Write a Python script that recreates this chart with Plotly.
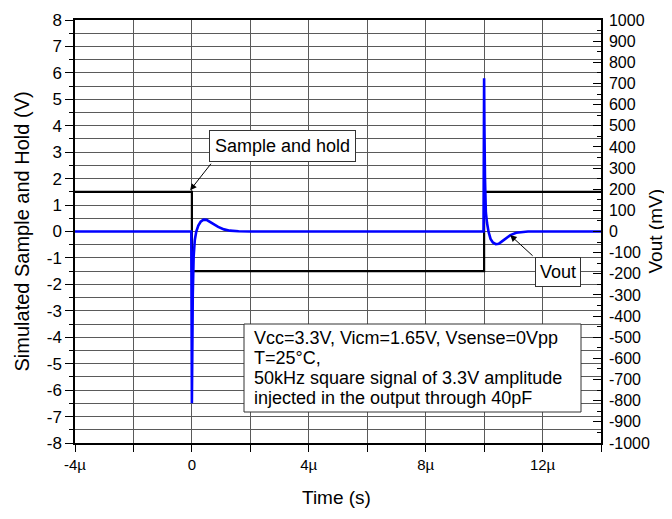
import plotly.graph_objects as go

# Time in microseconds
t_sh = [-4, 0, 0, 10, 10, 14]
v_sh = [1.5, 1.5, -1.5, -1.5, 1.5, 1.5]  # Simulated sample and hold (V)

t_vout = [-4, -0.02, 0.0, 0.01, 0.03, 0.06, 0.1, 0.15, 0.22, 0.3, 0.4, 0.5, 0.6, 0.75,
          0.9, 1.1, 1.3, 1.6, 2.0, 9.98, 10.0, 10.01, 10.03, 10.06, 10.1, 10.15, 10.22,
          10.3, 10.4, 10.5, 10.6, 10.75, 10.9, 11.1, 11.3, 11.5, 14]
v_vout = [0, 0, -812, -600, -300, -120, -40, 0, 28, 46, 56, 55, 47, 33,
          22, 10, 4, 1, 0, 0, 724, 500, 250, 90, 40, 0, -35,
          -52, -60, -58, -48, -32, -17, -6, -2, 0, 0]  # Vout (mV)

x_tickvals = [-4, 0, 4, 8, 12]
x_ticktext = ["-4µ", "0", "4µ", "8µ", "12µ"]
y_tickvals = list(range(-8, 9))
y_ticktext = [str(v) for v in y_tickvals]
y2_tickvals = list(range(-1000, 1001, 100))
y2_ticktext = [str(v) for v in y2_tickvals]

note_lines = ["Vcc=3.3V, Vicm=1.65V, Vsense=0Vpp", "T=25°C,",
              "50kHz square signal of 3.3V amplitude", "injected in the output through 40pF"]

FONT = "Liberation Sans, Arial, sans-serif"
GRID = "#5a5a5a"

# page body has an 8px margin: figure sized to fit without scrollbars,
# plot area sits at page x 75..601, y 20..443
fig = go.Figure()
fig.add_trace(go.Scatter(x=t_sh, y=v_sh, mode="lines", line=dict(color="black", width=2.2),
                         yaxis="y", showlegend=False))
fig.add_trace(go.Scatter(x=t_vout, y=v_vout, mode="lines", line=dict(color="#0000ff", width=2.6),
                         yaxis="y2", showlegend=False))

fig.update_layout(
    width=656, height=503,
    margin=dict(l=67, r=63, t=12, b=68, autoexpand=False),
    paper_bgcolor="white", plot_bgcolor="white",
    font=dict(family=FONT, color="black", size=16),
    xaxis=dict(range=[-4, 14], tickmode="array", tickvals=x_tickvals, ticktext=x_ticktext,
               ticks="outside", ticklen=7, tickcolor="black", showgrid=True, gridcolor=GRID,
               gridwidth=1, showline=True, linecolor="black", linewidth=1.5, mirror=True,
               zeroline=False, tickfont=dict(size=15), automargin=False,
               minor=dict(dtick=2, tick0=0, ticks="outside", ticklen=7, tickcolor="black",
                          showgrid=True, gridcolor=GRID, gridwidth=1)),
    yaxis=dict(range=[-8, 8], tickmode="array", tickvals=y_tickvals, ticktext=y_ticktext,
               ticks="outside", ticklen=8, tickcolor="black",
               showgrid=True, gridcolor=GRID, gridwidth=1, showline=True, linecolor="black",
               linewidth=1.5, zeroline=False, tickfont=dict(size=17), automargin=False,
               minor=dict(dtick=0.5, tick0=0, ticks="outside", ticklen=4, tickcolor="black",
                          showgrid=True, gridcolor=GRID, gridwidth=1)),
    yaxis2=dict(range=[-1000, 1000], tickmode="array", tickvals=y2_tickvals, ticktext=y2_ticktext,
                overlaying="y", side="right",
                ticks="inside", ticklen=8, tickcolor="black", showgrid=False,
                showline=True, linecolor="black", linewidth=1.5, zeroline=False,
                tickfont=dict(size=16), ticklabelstandoff=3, automargin=False,
                minor=dict(dtick=50, tick0=0, ticks="inside", ticklen=4, tickcolor="black")),
)

# Axis titles (as annotations for exact placement)
title_font = dict(size=20, family=FONT, color="black")
tpos = dict(xref="paper", yref="paper", showarrow=False, font=title_font,
            xanchor="center", yanchor="middle")
fig.add_annotation(text="Simulated Sample and Hold (V)", x=(21 - 75) / 526, y=0.5,
                   textangle=-90, **tpos)
fig.add_annotation(text="Vout (mV)", x=(655 - 75) / 526, y=0.5, textangle=-90,
                   **dict(tpos, font=dict(size=19, family=FONT, color="black")))
fig.add_annotation(text="Time (s)", x=(336 - 75) / 526, y=(443 - 497) / 423,
                   **dict(tpos, font=dict(size=19, family=FONT, color="black")))

box = dict(bgcolor="white", bordercolor="#333333", borderwidth=1, borderpad=5,
           showarrow=False, font=dict(size=18, family=FONT, color="black"))

fig.add_annotation(text="Sample and hold", xref="paper", yref="paper", x=0.255, y=0.74,
                   xanchor="left", yanchor="top", **box)
fig.add_annotation(text="Vout", xref="paper", yref="paper", x=0.875, y=0.44,
                   xanchor="left", yanchor="top", borderpad=4,
                   **{k: v for k, v in box.items() if k != "borderpad"})

# Conditions note: framed box with one text line per row
fig.add_shape(type="rect", xref="paper", yref="paper",
              x0=(244 - 75) / 526, x1=(581 - 75) / 526,
              y0=(443 - 412) / 423, y1=(443 - 324) / 423,
              line=dict(color="#333333", width=1), fillcolor="white", layer="above")
for i, line in enumerate(note_lines):
    fig.add_annotation(text=line, xref="paper", yref="paper", x=(252 - 75) / 526,
                       y=(443 - (338 + 20 * i)) / 423, xanchor="left", yanchor="middle",
                       showarrow=False, font=dict(size=18, family=FONT, color="black"))

# Arrows
fig.add_annotation(text="", x=-0.06, y=1.56, xref="x", yref="y", showarrow=True,
                   ax=22, ay=-28, arrowhead=2, arrowsize=1.3, arrowwidth=1, arrowcolor="black",
                   standoff=0)
fig.add_annotation(text="", x=10.89, y=-17, xref="x", yref="y2", showarrow=True,
                   ax=24, ay=22, arrowhead=2, arrowsize=1.3, arrowwidth=1, arrowcolor="black",
                   standoff=0)

fig.write_html("out.html")
